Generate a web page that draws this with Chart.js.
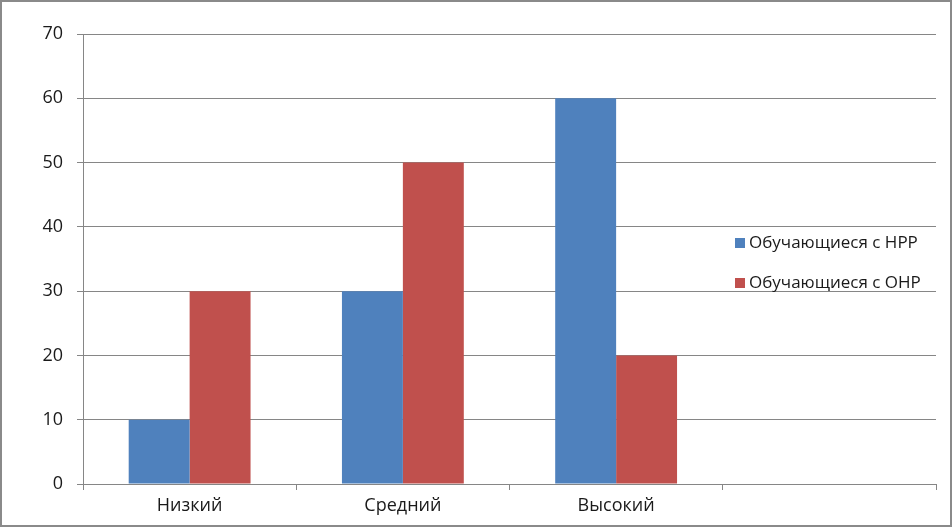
<!DOCTYPE html>
<html>
<head>
<meta charset="utf-8">
<script src="https://cdn.jsdelivr.net/npm/chart.js@4"></script>
<style>
  html, body { margin: 0; padding: 0; background: #fff; }
  .frame { width: 952px; height: 527px; box-sizing: border-box; border: 2px solid #8a8a8a; }
  canvas { display: block; }
</style>
</head>
<body>
<div class="frame"><canvas id="chart" width="948" height="523"></canvas></div>
<script>
  // values
  const categories = ["Низкий", "Средний", "Высокий", ""];
  const nrrValues = [10, 30, 60, null];
  const onrValues = [30, 50, 20, null];
  const seriesNames = ["Обучающиеся с НРР", "Обучающиеся с ОНР"];

  const colors = {
    blue: "#4f81bd",
    red: "#c0504d",
    grid: "#868686",
    text: "#1a1a1a",
  };

  Chart.defaults.font.family = "'Open Sans', sans-serif";
  Chart.defaults.color = colors.text;

  // legend drawn over the plot area, like the Excel original
  const insideLegend = {
    id: "insideLegend",
    afterDatasetsDraw(chart) {
      const ctx = chart.ctx;
      const area = chart.chartArea;
      const x = area.right - 201;
      const ys = [241, 281];
      ctx.save();
      ctx.font = "17px 'Open Sans', sans-serif";
      ctx.textBaseline = "middle";
      chart.data.datasets.forEach((ds, i) => {
        ctx.fillStyle = ds.backgroundColor;
        ctx.fillRect(x, ys[i] - 5, 10, 10);
        ctx.fillStyle = colors.text;
        ctx.fillText(ds.label, x + 14, ys[i]);
      });
      ctx.restore();
    },
  };

  new Chart(document.getElementById("chart").getContext("2d"), {
    type: "bar",
    data: {
      labels: categories,
      datasets: [
        { label: seriesNames[0], data: nrrValues, backgroundColor: colors.blue },
        { label: seriesNames[1], data: onrValues, backgroundColor: colors.red },
      ],
    },
    options: {
      responsive: false,
      animation: false,
      layout: { padding: { top: 32, right: 14, left: 0, bottom: 0 } },
      datasets: { bar: { categoryPercentage: 2 / 3.5, barPercentage: 1 } },
      plugins: {
        legend: { display: false },
        tooltip: { enabled: false },
      },
      scales: {
        x: {
          afterFit: (s) => { s.height = 41; },
          grid: {
            offset: true,
            drawOnChartArea: false,
            drawTicks: true,
            tickLength: 6,
            color: colors.grid,
          },
          border: { color: colors.grid },
          ticks: { font: { size: 18 }, padding: 5, color: colors.text },
        },
        y: {
          min: 0,
          max: 70,
          afterFit: (s) => { s.width = 81; },
          grid: { color: colors.grid, tickLength: 6 },
          border: { color: colors.grid },
          ticks: { stepSize: 10, font: { size: 18 }, padding: 14, color: colors.text },
        },
      },
    },
    plugins: [insideLegend],
  });
</script>
</body>
</html>
